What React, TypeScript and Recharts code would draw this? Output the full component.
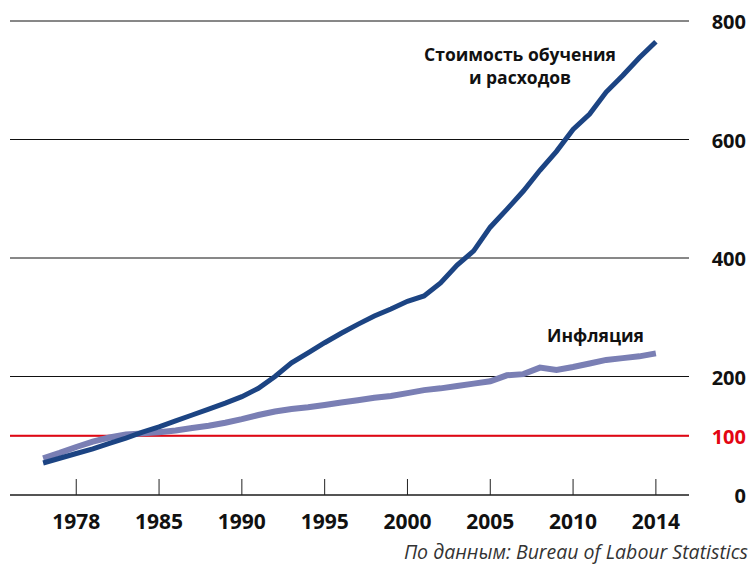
import { LineChart, Line, XAxis, YAxis, CartesianGrid, ReferenceLine } from 'recharts';

const years = [
  1978, 1979, 1980, 1981, 1982, 1983, 1984, 1985, 1986, 1987, 1988, 1989, 1990,
  1991, 1992, 1993, 1994, 1995, 1996, 1997, 1998, 1999, 2000, 2001, 2002, 2003,
  2004, 2005, 2006, 2007, 2008, 2009, 2010, 2011, 2012, 2013, 2014, 2015,
];

// стоимость обучения и расходов (индекс, 1982-84 = 100)
const tuition = [
  54, 62, 70, 78, 87, 96, 106, 115, 125, 135, 145, 155, 166,
  180, 200, 223, 240, 257, 273, 288, 302, 314, 327, 336, 358, 388,
  412, 452, 482, 513, 548, 580, 617, 643, 680, 708, 738, 765,
];

// инфляция
const inflation = [
  62, 71, 81, 90, 97, 102, 104, 106, 109, 113, 117, 122, 128,
  135, 141, 145, 148, 152, 156, 160, 164, 167, 172, 177, 180, 184,
  188, 192, 202, 204, 215, 211, 216, 222, 228, 231, 234, 239,
];

const xTicks = [1980, 1985, 1990, 1995, 2000, 2005, 2010, 2015];
const xTickLabels = ['1978', '1985', '1990', '1995', '2000', '2005', '2010', '2014'];
const yTicks = [0, 100, 200, 400, 600, 800];

const data = years.map((year, i) => ({ year, tuition: tuition[i], inflation: inflation[i] }));

const FONT = '"Open Sans", "Noto Sans", sans-serif';

const XTick = (props: any) => {
  const { x, y, payload } = props;
  const idx = xTicks.indexOf(payload.value);
  return (
    <g>
      <line x1={x} x2={x} y1={y - 16} y2={y} stroke="#222" strokeWidth={1} />
      <text x={x} y={y + 34} textAnchor="middle" fontFamily={FONT} fontWeight={700} fontSize={21} fill="#111">
        {xTickLabels[idx]}
      </text>
    </g>
  );
};

const YTick = (props: any) => {
  const { x, y, payload } = props;
  return (
    <text
      x={x + 57}
      y={y + 8}
      textAnchor="end"
      fontFamily={FONT}
      fontWeight={700}
      fontSize={20}
      fill={payload.value === 100 ? '#e30613' : '#111'}
    >
      {payload.value}
    </text>
  );
};

export default function App() {
  return (
    <div style={{ position: 'relative', width: 751, height: 565, fontFamily: FONT }}>
      <style>{'body{margin:0}'}</style>
      <LineChart width={751} height={565} data={data} margin={{ top: 21, right: 0, bottom: 30, left: 10 }}>
        <CartesianGrid vertical={false} stroke="#111" strokeWidth={1} />
        <XAxis
          dataKey="year"
          type="number"
          domain={[1976, 2017]}
          ticks={xTicks}
          tick={<XTick />}
          tickLine={false}
          tickSize={0}
          tickMargin={0}
          axisLine={{ stroke: '#222', strokeWidth: 1 }}
          height={40}
        />
        <YAxis
          orientation="right"
          domain={[0, 800]}
          ticks={yTicks}
          tick={<YTick />}
          tickLine={false}
          tickSize={0}
          tickMargin={0}
          axisLine={false}
          width={62}
        />
        <ReferenceLine y={100} stroke="#e30613" strokeWidth={2} />
        <Line
          dataKey="inflation"
          stroke="#7a7fb4"
          strokeWidth={6}
          dot={false}
          isAnimationActive={false}
        />
        <Line
          dataKey="tuition"
          stroke="#1c4483"
          strokeWidth={5}
          dot={false}
          isAnimationActive={false}
        />
      </LineChart>
      <div
        style={{
          position: 'absolute',
          left: 400,
          top: 43,
          width: 240,
          textAlign: 'center',
          fontWeight: 700,
          fontSize: 17.5,
          lineHeight: '23px',
          color: '#111',
        }}
      >
        Стоимость обучения
        <br />и расходов
      </div>
      <div
        style={{
          position: 'absolute',
          left: 547,
          top: 323,
          fontWeight: 700,
          fontSize: 17.5,
          color: '#111',
        }}
      >
        Инфляция
      </div>
      <div
        style={{
          position: 'absolute',
          right: 3,
          top: 538,
          fontStyle: 'italic',
          fontSize: 19.5,
          color: '#333',
          whiteSpace: 'nowrap',
        }}
      >
        По данным: Bureau of Labour Statistics
      </div>
    </div>
  );
}
